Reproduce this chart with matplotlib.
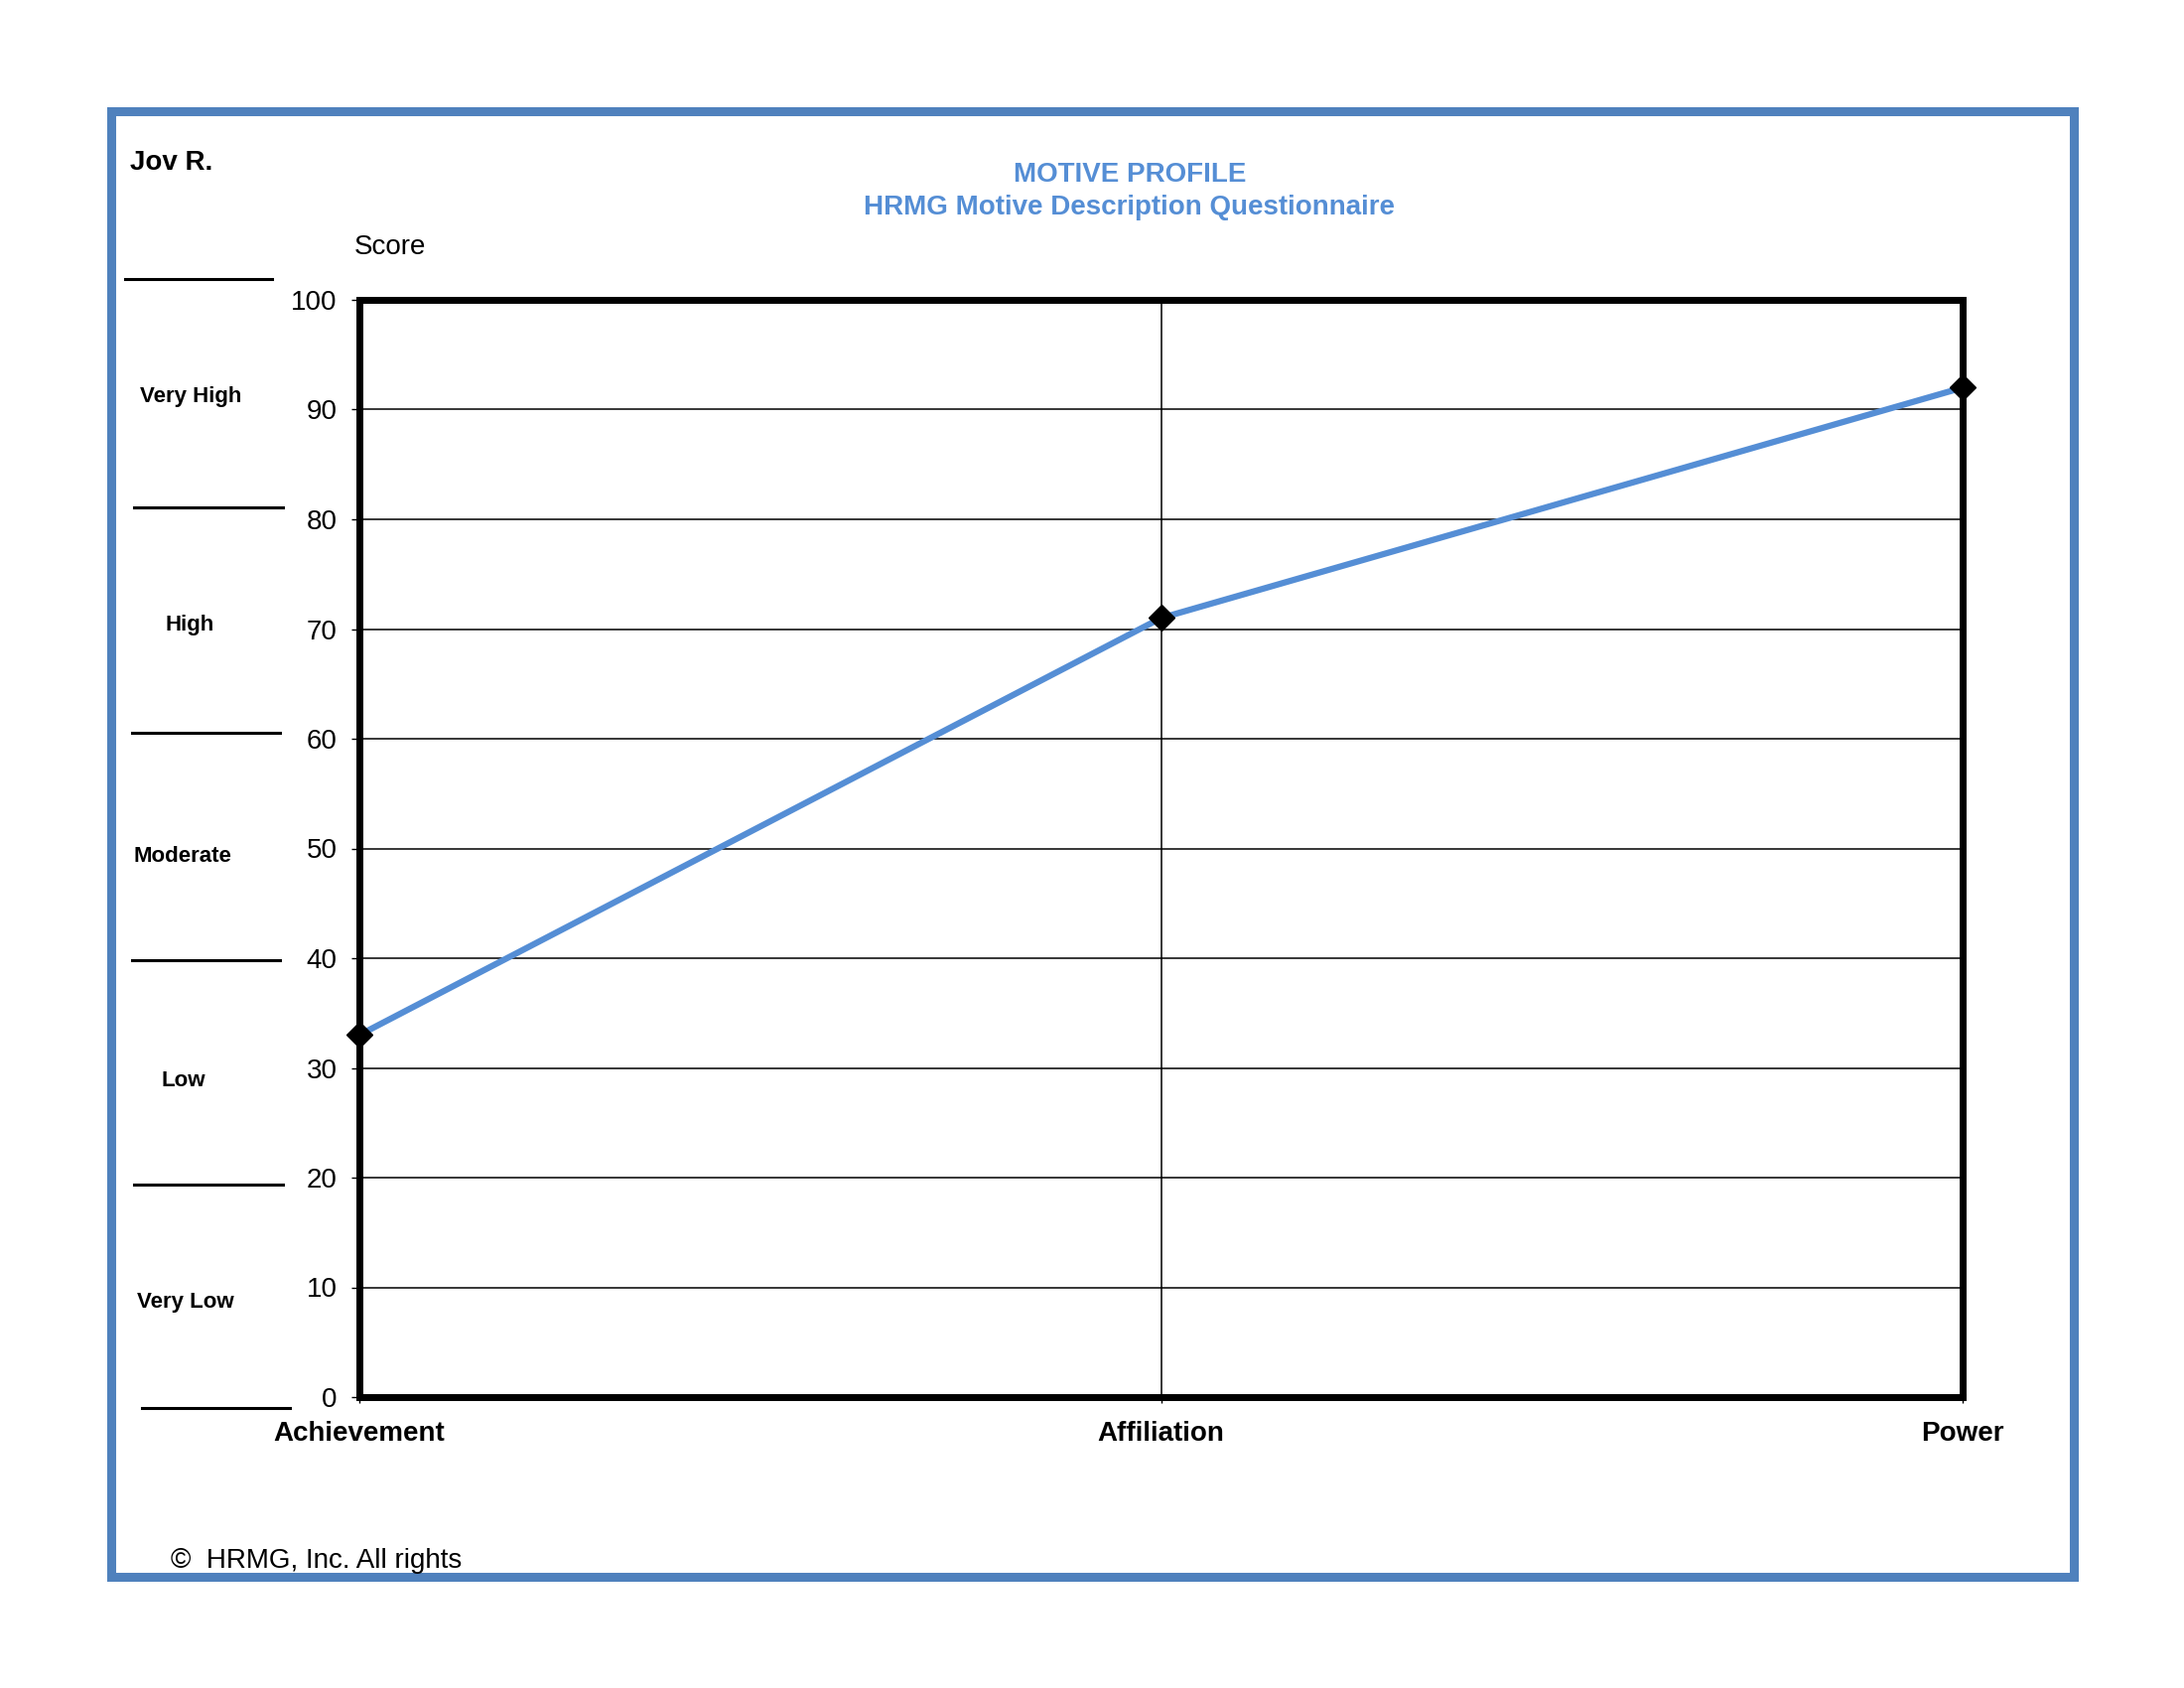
import matplotlib
matplotlib.use("Agg")
import matplotlib.pyplot as plt
from matplotlib.patches import Rectangle
from matplotlib.lines import Line2D

plt.rcParams['font.family'] = ['Liberation Sans', 'DejaVu Sans']

# ---- data ----
categories = ["Achievement", "Affiliation", "Power"]
scores = [33, 71, 92]
y_ticks = [0, 10, 20, 30, 40, 50, 60, 70, 80, 90, 100]
band_labels = ["Very High", "High", "Moderate", "Low", "Very Low"]
person = "Jov R."
title_line1 = "MOTIVE PROFILE"
title_line2 = "HRMG Motive Description Questionnaire"
footer = "\u00a9  HRMG, Inc. All rights"

W, H = 2200, 1700
fig = plt.figure(figsize=(22, 17), dpi=100)

def fx(px):
    return px / W

def fy(py):
    return 1 - py / H

# outer blue frame
fig.patches.append(Rectangle((fx(111.5), fy(1587.5)), fx(2088.5) - fx(111.5), fy(111.5) - fy(1587.5),
                             transform=fig.transFigure, fill=False, edgecolor='#4F81BD', linewidth=6.5))

ax = fig.add_axes([fx(362), fy(1407), fx(1977) - fx(362), fy(302) - fy(1407)])
x = list(range(len(categories)))
ax.plot(x, scores, color='#558ED5', linewidth=4.5, zorder=3, solid_capstyle='butt')
ax.plot(x, scores, linestyle='none', marker='D', markersize=13.5, color='black', zorder=4, clip_on=False)

ax.set_xlim(0, len(categories) - 1)
ax.set_ylim(0, 100)
ax.set_yticks(y_ticks)
ax.set_yticklabels([str(v) for v in y_ticks], fontsize=20)
ax.set_xticks(x)
ax.set_xticklabels(categories, fontsize=20, fontweight='bold')
ax.tick_params(axis='y', direction='out', length=6, width=1, pad=10)
ax.tick_params(axis='x', direction='out', length=4, width=1, pad=13)

for v in y_ticks[1:-1]:
    ax.axhline(v, color='black', linewidth=1.1, zorder=1)
ax.axvline(1, color='black', linewidth=1.1, zorder=1)

for s in ax.spines.values():
    s.set_linewidth(5)
    s.set_color('black')
    s.set_capstyle('projecting')

# titles and labels
fig.text(fx(1138), fy(176), title_line1, ha='center', va='center', fontsize=20, fontweight='bold', color='#558ED5')
fig.text(fx(1138), fy(209), title_line2, ha='center', va='center', fontsize=20, fontweight='bold', color='#558ED5')
fig.text(fx(131), fy(164), person, ha='left', va='center', fontsize=20, fontweight='bold')
fig.text(fx(357), fy(249), "Score", ha='left', va='center', fontsize=20)
fig.text(fx(172), fy(1572), footer, ha='left', va='center', fontsize=20)

# left-hand band separators and labels
sep_y = [281, 511, 738, 967, 1193, 1418]
sep_x = [(126, 274), (135, 285), (133, 282), (133, 282), (135, 285), (143, 292)]
for yy, (x0, x1) in zip(sep_y, sep_x):
    fig.add_artist(Line2D([fx(x0), fx(x1)], [fy(yy), fy(yy)], transform=fig.transFigure,
                          color='black', linewidth=2.2))

band_pos = [(192, 400), (191, 629), (184, 862), (185, 1088), (187, 1311)]
for lbl, (bx, by) in zip(band_labels, band_pos):
    fig.text(fx(bx), fy(by), lbl, ha='center', va='center', fontsize=16, fontweight='bold')

fig.savefig("out.png", dpi=100, facecolor='white')
